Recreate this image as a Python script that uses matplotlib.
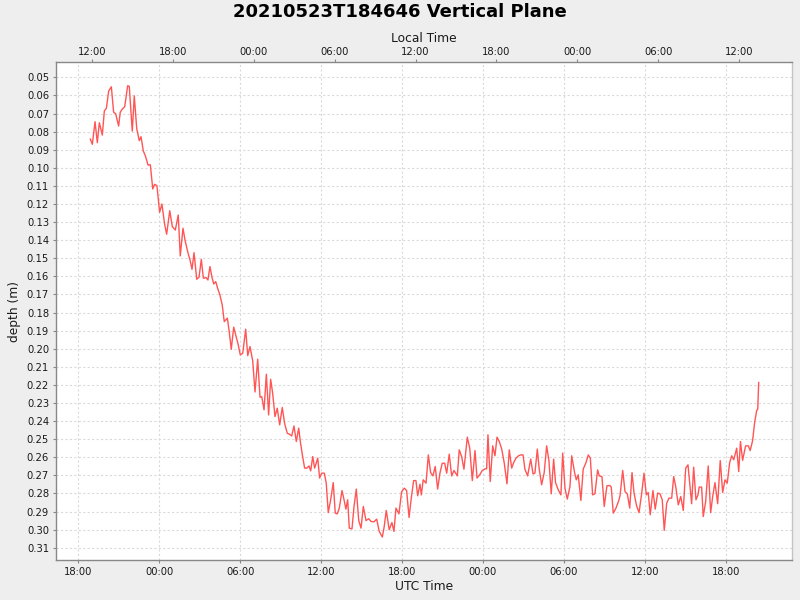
import matplotlib
matplotlib.use('Agg')
import matplotlib.pyplot as plt
import matplotlib.dates as mdates
from matplotlib.ticker import MultipleLocator, FormatStrFormatter
import pandas as pd

# hours elapsed since 2021-05-23 18:00 UTC
hours = [0.89,1.04,1.24,1.41,1.56,1.78,1.93,2.08,2.25,2.45,
         2.62,2.77,2.99,3.11,3.24,3.44,3.66,3.78,4.00,4.15,
         4.33,4.52,4.65,4.82,4.97,5.17,5.34,5.52,5.66,5.83,
         6.03,6.20,6.40,6.55,6.78,6.97,7.19,7.41,7.56,7.76,
         7.91,8.11,8.28,8.43,8.58,8.78,8.95,9.12,9.27,9.47,
         9.61,9.76,9.91,10.04,10.19,10.33,10.50,10.67,10.82,11.05,
         11.19,11.34,11.52,11.67,11.84,12.01,12.19,12.41,12.56,12.73,
         12.93,13.10,13.30,13.47,13.60,13.77,13.94,14.11,14.26,14.41,
         14.58,14.75,14.93,15.12,15.30,15.49,15.64,15.82,15.99,16.16,
         16.34,16.46,16.61,16.78,16.95,17.10,17.23,17.38,17.52,17.75,
         17.89,18.04,18.24,18.38,18.53,18.71,18.90,19.05,19.20,19.35,
         19.55,19.70,19.84,19.97,20.09,20.29,20.44,20.61,20.79,20.96,
         21.13,21.33,21.53,21.70,21.92,22.12,22.31,22.54,22.68,22.83,
         23.05,23.25,23.40,23.55,23.77,23.97,24.17,24.34,24.52,24.69,
         24.86,25.03,25.16,25.33,25.43,25.57,25.78,25.95,26.12,26.29,
         26.46,26.64,26.81,26.98,27.16,27.31,27.50,27.68,27.85,28.10,
         28.24,28.42,28.59,28.84,29.02,29.21,29.41,29.56,29.76,29.95,
         30.15,30.27,30.37,30.54,30.72,30.89,31.04,31.21,31.39,31.58,
         31.78,31.95,32.13,32.28,32.45,32.65,32.82,32.97,33.11,33.31,
         33.54,33.71,33.85,34.03,34.17,34.35,34.54,34.72,34.89,35.06,
         35.24,35.38,35.58,35.78,35.91,36.08,36.25,36.45,36.58,36.80,
         36.92,37.06,37.26,37.43,37.64,37.81,37.96,38.13,38.30,38.50,
         38.62,38.82,38.99,39.19,39.39,39.51,39.66,39.86,40.06,40.16,
         40.36,40.53,40.70,40.88,41.05,41.20,41.39,41.57,41.77,41.94,
         42.11,42.25,42.40,42.60,42.77,42.95,43.12,43.29,43.44,43.62,
         43.79,43.99,44.14,44.29,44.48,44.66,44.85,45.03,45.20,45.47,
         45.62,45.79,45.94,46.03,46.21,46.33,46.51,46.70,46.88,47.03,
         47.20,47.40,47.59,47.77,47.94,48.11,48.29,48.44,48.59,48.81,
         48.96,49.09,49.25,49.47,49.67,49.81,49.99,50.14,50.29,50.37,
         50.44]

depths = [0.0841,0.0870,0.0745,0.0861,0.0751,0.0819,0.0686,0.0671,0.0576,0.0552,
          0.0693,0.0701,0.0769,0.0693,0.0677,0.0662,0.0546,0.0550,0.0797,0.0602,
          0.0782,0.0850,0.0828,0.0907,0.0933,0.0985,0.0983,0.1117,0.1091,0.1099,
          0.1246,0.1200,0.1312,0.1367,0.1237,0.1325,0.1344,0.1261,0.1487,0.1334,
          0.1399,0.1464,0.1509,0.1561,0.1469,0.1616,0.1605,0.1506,0.1610,0.1607,
          0.1620,0.1546,0.1605,0.1642,0.1629,0.1666,0.1703,0.1758,0.1850,0.1831,
          0.1906,0.2003,0.1881,0.1924,0.1973,0.2034,0.2025,0.1892,0.2038,0.1988,
          0.2067,0.2239,0.2058,0.2268,0.2265,0.2338,0.2141,0.2366,0.2169,0.2246,
          0.2375,0.2329,0.2421,0.2325,0.2415,0.2467,0.2472,0.2482,0.2427,0.2513,
          0.2439,0.2513,0.2587,0.2660,0.2660,0.2648,0.2675,0.2596,0.2660,0.2605,
          0.2715,0.2688,0.2688,0.2743,0.2906,0.2835,0.2740,0.2909,0.2913,0.2881,
          0.2784,0.2835,0.2887,0.2835,0.2992,0.2996,0.2872,0.2776,0.2950,0.2992,
          0.2872,0.2950,0.2940,0.2955,0.2957,0.2942,0.3010,0.3041,0.2983,0.2894,
          0.3001,0.2961,0.3010,0.2881,0.2913,0.2790,0.2771,0.2784,0.2933,0.2823,
          0.2729,0.2729,0.2813,0.2749,0.2808,0.2725,0.2743,0.2587,0.2685,0.2703,
          0.2651,0.2776,0.2688,0.2633,0.2633,0.2688,0.2583,0.2703,0.2673,0.2703,
          0.2559,0.2596,0.2666,0.2489,0.2550,0.2729,0.2563,0.2715,0.2697,0.2673,
          0.2664,0.2664,0.2476,0.2734,0.2537,0.2592,0.2489,0.2513,0.2555,0.2633,
          0.2747,0.2559,0.2660,0.2629,0.2605,0.2591,0.2587,0.2587,0.2666,0.2703,
          0.2610,0.2692,0.2688,0.2555,0.2666,0.2752,0.2685,0.2537,0.2618,0.2802,
          0.2610,0.2740,0.2780,0.2808,0.2577,0.2771,0.2831,0.2762,0.2592,0.2688,
          0.2725,0.2697,0.2839,0.2666,0.2629,0.2587,0.2605,0.2808,0.2802,0.2670,
          0.2703,0.2707,0.2872,0.2758,0.2756,0.2765,0.2909,0.2881,0.2841,0.2813,
          0.2673,0.2790,0.2802,0.2881,0.2685,0.2798,0.2869,0.2906,0.2798,0.2688,
          0.2808,0.2795,0.2918,0.2784,0.2887,0.2798,0.2802,0.2835,0.3004,0.2854,
          0.2826,0.2826,0.2707,0.2762,0.2863,0.2817,0.2894,0.2660,0.2642,0.2857,
          0.2655,0.2835,0.2808,0.2765,0.2765,0.2928,0.2845,0.2648,0.2906,0.2817,
          0.2740,0.2857,0.2618,0.2795,0.2725,0.2743,0.2629,0.2592,0.2614,0.2550,
          0.2679,0.2513,0.2617,0.2537,0.2537,0.2563,0.2508,0.2408,0.2342,0.2334,
          0.2187]

title = "20210523T184646 Vertical Plane"
base_utc = pd.Timestamp("2021-05-23 18:00")
local_offset_hours = -7
tick_hours = [0, 6, 12, 18]

assert len(hours) == len(depths), (len(hours), len(depths))

times = base_utc + pd.to_timedelta(hours, unit="h")

plt.rcParams['font.family'] = ['DejaVu Sans']
TXT = "#1a1a1a"
fig = plt.figure(figsize=(8, 6), dpi=100, facecolor="#EEEEEE")
ax = fig.add_axes([56/800, 40/600, 736/800, 498/600])
ax.set_facecolor("white")
ax.plot(times, depths, color="#FF5555", lw=1.0)

x0 = base_utc + pd.Timedelta(hours=-1.653)
x1 = base_utc + pd.Timedelta(hours=52.91)
ax.set_xlim(x0, x1)
ax.set_ylim(0.3168, 0.0415)

ax.yaxis.set_major_locator(MultipleLocator(0.01))
ax.yaxis.set_major_formatter(FormatStrFormatter("%.2f"))
ax.xaxis.set_major_locator(mdates.HourLocator(byhour=tick_hours))
ax.xaxis.set_major_formatter(mdates.DateFormatter("%H:%M"))
ax.grid(True, color="#DADADA", linestyle=(0, (2, 2)), lw=0.8)
ax.set_axisbelow(True)

for name, s in ax.spines.items():
    s.set_color("#888888")
    s.set_linewidth(1.0)
ax.spines["right"].set_color("#C4C4C4")
ax.tick_params(axis="both", colors="#888888", labelcolor=TXT,
               length=2, width=0.8, labelsize=7.2, pad=3)
ax.set_xlabel("UTC Time", fontsize=8.8, color=TXT, labelpad=2)
ax.set_ylabel("depth (m)", fontsize=8.8, color=TXT, labelpad=4)

ax2 = ax.twiny()
ln0 = mdates.date2num(x0) + local_offset_hours / 24
ln1 = mdates.date2num(x1) + local_offset_hours / 24
ax2.set_xlim(ln0, ln1)
ax2.xaxis.set_major_locator(mdates.HourLocator(byhour=tick_hours))
ax2.xaxis.set_major_formatter(mdates.DateFormatter("%H:%M"))
ax2.tick_params(axis="x", colors="#888888", labelcolor=TXT,
                length=2, width=0.8, labelsize=7.2, pad=1.5)
for s in ax2.spines.values():
    s.set_visible(False)
ax2.set_xlabel("Local Time", fontsize=8.8, color=TXT, labelpad=4)

fig.text(0.5, 1 - 12/600, title, ha="center", va="center",
         fontsize=13, fontweight="bold", color="black")

fig.savefig("out.png", dpi=100, facecolor=fig.get_facecolor())
